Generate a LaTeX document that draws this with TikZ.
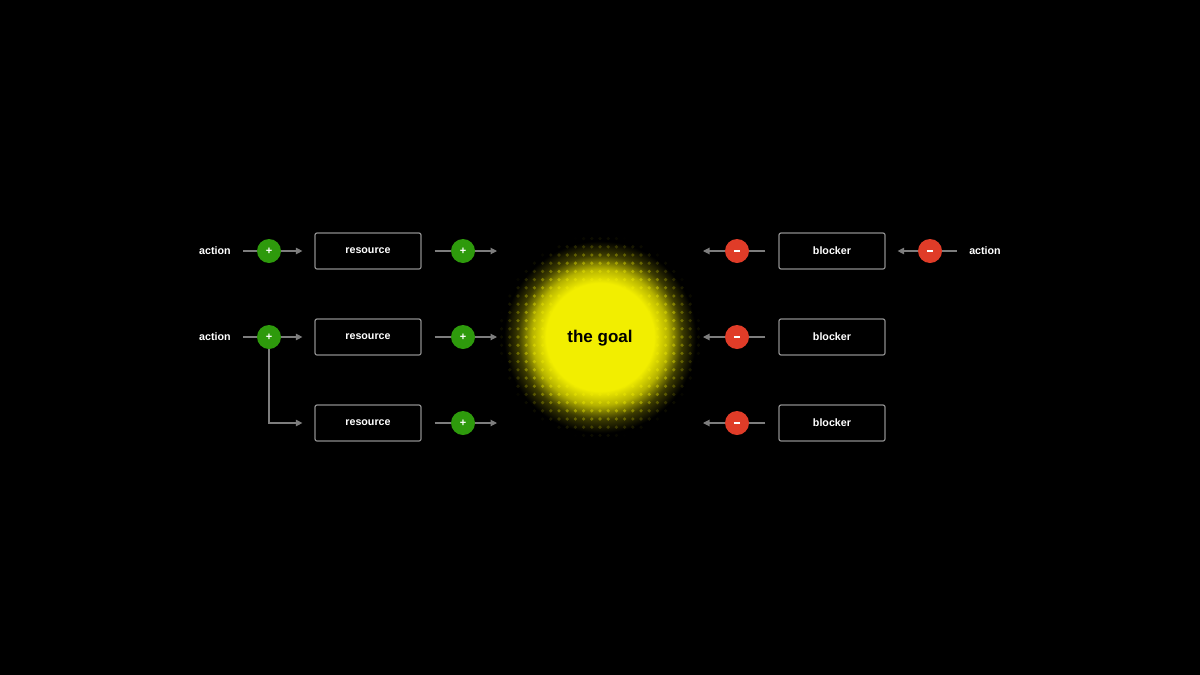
\documentclass[tikz,border=0pt]{standalone}
\usepackage{fontspec}
\setmainfont{Liberation Sans}
\usepackage{tikz}
\usetikzlibrary{arrows.meta}
\definecolor{goalyellow}{RGB}{242,238,0}
\definecolor{plusgreen}{RGB}{46,154,12}
\definecolor{minusred}{RGB}{224,60,40}
\definecolor{linegray}{RGB}{125,125,125}
\definecolor{boxgray}{RGB}{140,140,140}
\pgfdeclareradialshading{goalglow}{\pgfpointorigin}{color(0bp)=(goalyellow); color(13.5bp)=(goalyellow); color(17bp)=(goalyellow!75!black); color(20.5bp)=(goalyellow!25!black); color(24bp)=(black); color(50bp)=(black)}
\tikzset{label/.style={text=white, font=\bfseries\fontsize{10.7}{12}\selectfont}}
\tikzset{box/.style={draw=boxgray, line width=1.2pt, rounded corners=2pt, minimum width=106pt, minimum height=36pt, label}}
\tikzset{sign/.style={circle, fill=#1, minimum size=24pt, inner sep=0pt, text=white, font=\bfseries\fontsize{11}{11}\selectfont}}
\tikzset{wire/.style={draw=linegray, line width=1.1pt}}
\tikzset{flow/.style={wire, -{Triangle[length=6.5pt, width=6.5pt]}}}
\newcommand{\minusbar}{\rule{6.5pt}{1.8pt}}

\begin{document}
\begin{tikzpicture}[x=1pt, y=-1pt]
    \fill[black] (0, 0) rectangle (1200, 675);
    \useasboundingbox (0, 0) rectangle (1200, 675);
    % the goal
    \shade[shading=goalglow] (600, 337) circle (100);
    \foreach \i in {-12,...,12} {
        \foreach \j in {-12,...,12} {
            \pgfmathsetmacro\dist{sqrt(\i*\i + \j*\j)*8.2}
            \pgfmathsetmacro\op{max(0, min(0.4, (102 - \dist)/60))}
            \fill[goalyellow, opacity=\op] (600 + \i*8.2, 337 + \j*8.2) circle (1.8);
        }
    }
    \node (goal) at (600, 338) {\bfseries\fontsize{17}{20}\selectfont the goal};
    % left side
    \node[label] (act1) at (215, 251) {action};
    \node[label] (act2) at (215, 337) {action};
    \node[sign=plusgreen] (pa1) at (269, 251) {+};
    \node[sign=plusgreen] (pa2) at (269, 337) {+};
    \foreach \n/\y in {1/251, 2/337, 3/423} {
        \node[box] (res\n) at (368, \y) {resource};
        \node[sign=plusgreen] (pr\n) at (463, \y) {+};
        \coordinate (in\n) at (497, \y);
        \draw[wire, shorten <=13pt] (res\n) -- (pr\n);
        \draw[flow] (pr\n) -- (in\n);
    }
    \draw[wire, shorten <=9pt] (act1) -- (pa1);
    \draw[wire, shorten <=9pt] (act2) -- (pa2);
    \draw[flow, shorten >=12pt] (pa1) -- (res1);
    \draw[flow, shorten >=12pt] (pa2) -- (res2);
    \draw[flow, shorten >=12pt] (pa2) |- (res3);
    % right side
    \foreach \n/\y in {1/251, 2/337, 3/423} {
        \node[box] (blk\n) at (832, \y) {blocker};
        \node[sign=minusred] (mb\n) at (737, \y) {\minusbar};
        \coordinate (out\n) at (703, \y);
        \draw[wire, shorten <=13pt] (blk\n) -- (mb\n);
        \draw[flow] (mb\n) -- (out\n);
    }
    \node[label] (act3) at (985, 251) {action};
    \node[sign=minusred] (ma1) at (930, 251) {\minusbar};
    \draw[wire, shorten <=9pt] (act3) -- (ma1);
    \draw[flow, shorten >=12pt] (ma1) -- (blk1);
\end{tikzpicture}
\end{document}
